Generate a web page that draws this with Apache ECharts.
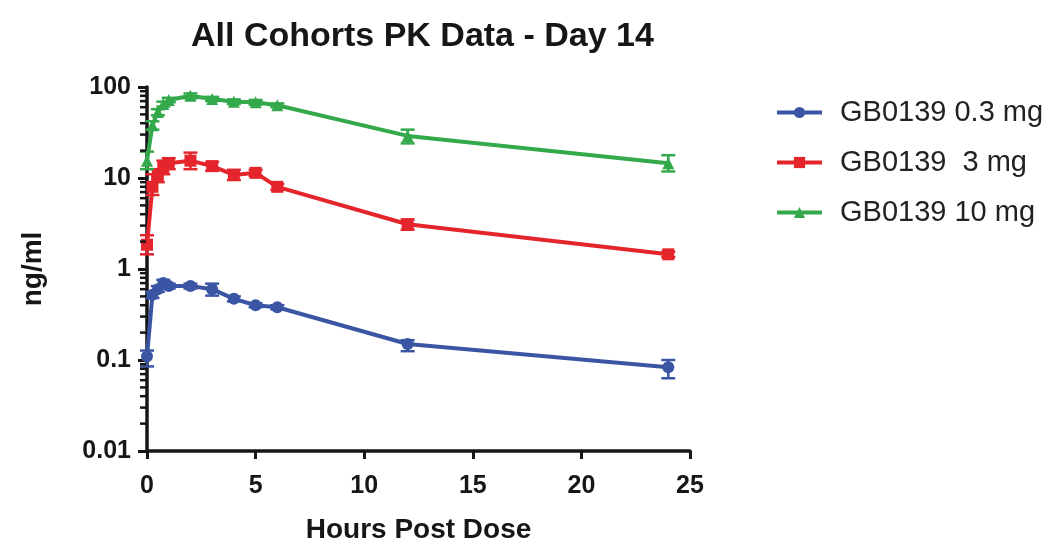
<!DOCTYPE html>
<html>
<head>
<meta charset="utf-8">
<script src="https://cdn.jsdelivr.net/npm/echarts@6/dist/echarts.min.js"></script>
<style>html,body{margin:0;padding:0;background:#fff;}#main{width:1047px;height:542px;}</style>
</head>
<body>
<div id="main"></div>
<script>
// ---- data ----
var hours = [0, 0.25, 0.5, 0.75, 1, 2, 3, 4, 5, 6, 12, 24];
var seriesNames = ['GB0139 0.3 mg', 'GB0139  3 mg', 'GB0139 10 mg'];
var dose03 = [0.11, 0.52, 0.60, 0.70, 0.65, 0.65, 0.60, 0.47, 0.40, 0.38, 0.15, 0.083];
var dose03Low = [0.085, 0.48, 0.56, 0.64, 0.61, 0.61, 0.51, 0.44, 0.38, 0.36, 0.125, 0.063];
var dose03High = [0.127, 0.56, 0.65, 0.76, 0.69, 0.69, 0.69, 0.50, 0.42, 0.40, 0.165, 0.10];
var dose3 = [1.85, 8.0, 10.5, 13.0, 14.5, 15.5, 13.5, 10.8, 11.4, 8.0, 3.1, 1.45];
var dose3Low = [1.45, 6.5, 9.0, 11.0, 12.5, 12.5, 12.0, 9.5, 10.5, 7.4, 2.7, 1.35];
var dose3High = [2.35, 11.0, 12.5, 15.5, 16.5, 19.0, 15.0, 12.3, 12.3, 8.6, 3.5, 1.55];
var dose10 = [15.5, 38, 53, 65, 72, 80, 74, 69, 68, 63, 29, 14.5];
var dose10Low = [12.5, 34, 49, 61, 68, 75, 70, 65, 64, 60, 24, 11.8];
var dose10High = [19.5, 42, 57, 69, 76, 85, 78, 73, 72, 66, 34, 17.8];
var yTicks = [0.01, 0.1, 1, 10, 100];
var xTicks = [0, 5, 10, 15, 20, 25];

var colors = ['#3b55a5', '#e4262c', '#33a94b'];
var symbols = ['circle', 'rect', 'triangle'];
var FONT = '"Liberation Sans", Arial, Helvetica, sans-serif';
var INK = '#161616';

function pairs(vals) { return hours.map(function (h, i) { return [h, vals[i]]; }); }
function errData(lo, hi) { return hours.map(function (h, i) { return [h, lo[i], hi[i]]; }); }

function errSeries(lo, hi, color) {
  return {
    type: 'custom', z: 1, silent: true,
    data: errData(lo, hi),
    encode: { x: 0, y: [1, 2] },
    renderItem: function (params, api) {
      var x = api.value(0);
      var p1 = api.coord([x, api.value(1)]);
      var p2 = api.coord([x, api.value(2)]);
      var w = 7;
      var st = { stroke: color, lineWidth: 2.5 };
      return { type: 'group', children: [
        { type: 'line', shape: { x1: p1[0], y1: p1[1], x2: p2[0], y2: p2[1] }, style: st },
        { type: 'line', shape: { x1: p1[0] - w, y1: p1[1], x2: p1[0] + w, y2: p1[1] }, style: st },
        { type: 'line', shape: { x1: p2[0] - w, y1: p2[1], x2: p2[0] + w, y2: p2[1] }, style: st }
      ]};
    }
  };
}

// minor log tick positions (2..9 per decade)
var minorTicks = [];
for (var k = 0; k < yTicks.length - 1; k++) {
  for (var m = 2; m <= 9; m++) minorTicks.push([0, +(m * yTicks[k]).toPrecision(3)]);
}

var lineData = [dose03, dose3, dose10];
var series = [];
series.push({
  type: 'custom', z: 3, silent: true, clip: false,
  data: minorTicks,
  renderItem: function (params, api) {
    var p = api.coord([api.value(0), api.value(1)]);
    return { type: 'line', shape: { x1: p[0] - 1, y1: p[1], x2: p[0] - 7, y2: p[1] }, style: { stroke: INK, lineWidth: 2.5 } };
  }
});
series.push(errSeries(dose03Low, dose03High, colors[0]));
series.push(errSeries(dose3Low, dose3High, colors[1]));
series.push(errSeries(dose10Low, dose10High, colors[2]));
for (var s = 0; s < 3; s++) {
  series.push({
    name: seriesNames[s], type: 'line', z: 2,
    data: pairs(lineData[s]),
    symbol: symbols[s], symbolSize: 12,
    showAllSymbol: true,
    itemStyle: { color: colors[s] },
    lineStyle: { color: colors[s], width: 4 },
    emphasis: { disabled: true }
  });
}

var chart = echarts.init(document.getElementById('main'), null, { renderer: 'canvas' });
chart.setOption({
  animation: false,
  backgroundColor: '#fff',
  title: {
    text: 'All Cohorts PK Data - Day 14',
    left: 186, top: 15,
    textStyle: { fontFamily: FONT, fontWeight: 'bold', fontSize: 34, color: INK }
  },
  legend: {
    orient: 'vertical', left: 770, top: 93, itemGap: 21,
    itemWidth: 45, itemHeight: 14,
    data: seriesNames,
    lineStyle: { width: 4 },
    textStyle: { fontFamily: FONT, fontSize: 29, color: '#222', padding: [0, 0, 0, 13] }
  },
  grid: { left: 147, right: 357, top: 87, bottom: 91, containLabel: false, outerBoundsMode: 'none' },
  xAxis: {
    type: 'value', min: 0, max: 25, interval: 5,
    name: 'Hours Post Dose', nameLocation: 'middle', nameGap: 65,
    nameTextStyle: { fontFamily: FONT, fontWeight: 'bold', fontSize: 28, color: INK },
    axisLine: { lineStyle: { color: INK, width: 3.5 } },
    axisTick: { length: 8, lineStyle: { color: INK, width: 3 } },
    axisLabel: { fontFamily: FONT, fontWeight: 'bold', fontSize: 25, color: INK, margin: 23 },
    splitLine: { show: false }
  },
  yAxis: {
    type: 'log', logBase: 10, min: 0.01, max: 100,
    name: 'ng/ml', nameLocation: 'middle', nameGap: 100, nameRotate: 90,
    nameTextStyle: { fontFamily: FONT, fontWeight: 'bold', fontSize: 28, color: INK },
    axisLine: { show: true, lineStyle: { color: INK, width: 3.5 } },
    axisTick: { show: true, length: 9, lineStyle: { color: INK, width: 3 } },
    axisLabel: { fontFamily: FONT, fontWeight: 'bold', fontSize: 25, color: INK, margin: 16,
      formatter: function (v) { return String(+v.toPrecision(3)); } },
    splitLine: { show: false }
  },
  series: series
});
</script>
</body>
</html>
